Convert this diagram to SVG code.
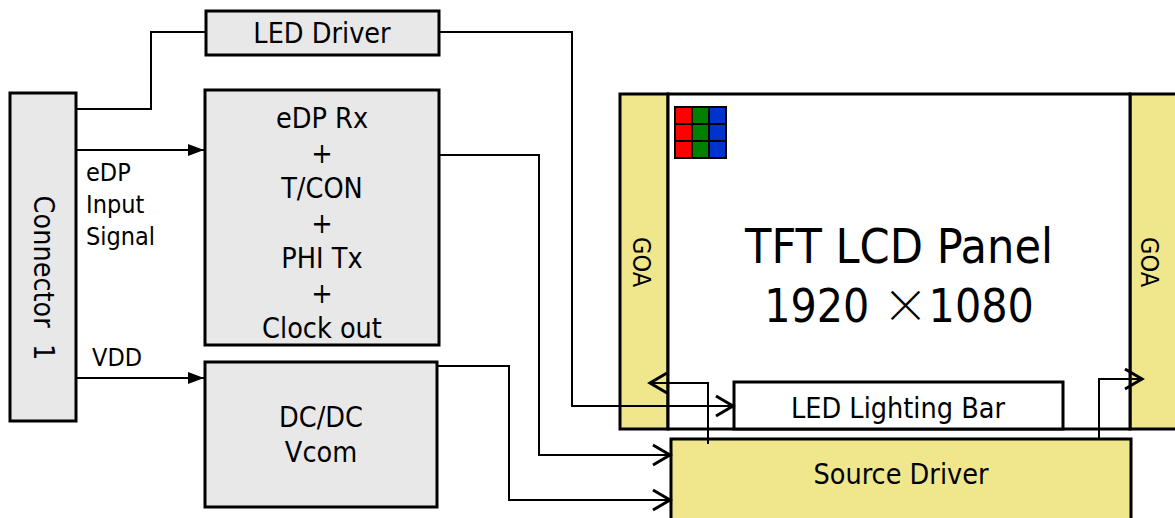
<svg xmlns="http://www.w3.org/2000/svg" width="1175" height="518" viewBox="0 0 1175 518">
<style>
.box{fill:#e8e8e8;stroke:#000;stroke-width:3}
.yel{fill:#f0e68c;stroke:#000;stroke-width:3}
.wht{fill:#fff;stroke:#000;stroke-width:3}
.t{font-family:'DejaVu Sans Condensed','DejaVu Sans',sans-serif;font-size:28.5px;fill:#000;text-anchor:middle}
.l{font-family:'DejaVu Sans Condensed','DejaVu Sans',sans-serif;font-size:25px;fill:#000}
.big{font-family:'DejaVu Sans Condensed','DejaVu Sans',sans-serif;font-size:48px;fill:#000;text-anchor:middle}
.goa{font-family:'DejaVu Sans Condensed','DejaVu Sans',sans-serif;font-size:25px;fill:#000;text-anchor:middle;dominant-baseline:central}
.c{fill:none;stroke:#000;stroke-width:2}
.cell{stroke:#000;stroke-width:2}
</style>
<defs>
<marker id="chev" viewBox="-20 -12 24 24" markerWidth="24" markerHeight="24" refX="0" refY="0" orient="auto" markerUnits="userSpaceOnUse"><path d="M-17,-10 L0,0 L-17,10" fill="none" stroke="#000" stroke-width="3"/></marker>
<marker id="tri" viewBox="-16 -8 18 16" markerWidth="18" markerHeight="16" refX="0" refY="0" orient="auto" markerUnits="userSpaceOnUse"><path d="M-16,-6 L0,0 L-16,6 Z" fill="#000"/></marker>
</defs>
<rect width="1175" height="518" fill="#fff"/>

<g id="connector1">
<rect class="box" x="10" y="93" width="66" height="328"/>
<text class="t" style="white-space:pre;dominant-baseline:central" transform="translate(43,278) rotate(90)">Connector  1</text>
</g>

<g id="led-driver">
<rect class="box" x="206" y="11" width="233" height="44"/>
<text class="t" x="322" y="43">LED Driver</text>
</g>

<g id="edp-rx">
<rect class="box" x="205" y="90" width="234" height="255"/>
<text class="t" x="322" y="128">eDP Rx</text>
<text class="t" x="322" y="163">+</text>
<text class="t" x="322" y="198">T/CON</text>
<text class="t" x="322" y="233">+</text>
<text class="t" x="322" y="268">PHI Tx</text>
<text class="t" x="322" y="303">+</text>
<text class="t" x="322" y="338">Clock out</text>
</g>

<g id="dcdc">
<rect class="box" x="205" y="362" width="232" height="145"/>
<text class="t" x="321" y="427">DC/DC</text>
<text class="t" x="321" y="462">Vcom</text>
</g>

<g id="goa-left">
<rect class="yel" x="620" y="94" width="48" height="335"/>
<text class="goa" transform="translate(641,262) rotate(90)">GOA</text>
</g>

<g id="goa-right">
<rect class="yel" x="1130" y="94" width="52" height="335"/>
<text class="goa" transform="translate(1149,262) rotate(90)">GOA</text>
</g>

<g id="panel">
<rect class="wht" x="668" y="94" width="462" height="335"/>
<g id="pixels">
<rect class="cell" x="675" y="107" width="17" height="17" fill="#ff0000"/>
<rect class="cell" x="692" y="107" width="17" height="17" fill="#008000"/>
<rect class="cell" x="709" y="107" width="17" height="17" fill="#0033cc"/>
<rect class="cell" x="675" y="124" width="17" height="17" fill="#ff0000"/>
<rect class="cell" x="692" y="124" width="17" height="17" fill="#008000"/>
<rect class="cell" x="709" y="124" width="17" height="17" fill="#0033cc"/>
<rect class="cell" x="675" y="141" width="17" height="17" fill="#ff0000"/>
<rect class="cell" x="692" y="141" width="17" height="17" fill="#008000"/>
<rect class="cell" x="709" y="141" width="17" height="17" fill="#0033cc"/>
</g>
<text class="big" x="899" y="263">TFT LCD Panel</text>
<text class="big" x="899" y="322" style="font-size:46px">1920 <tspan style="font-family:'Noto Sans CJK SC',sans-serif;font-weight:300">×</tspan>1080</text>
</g>

<g id="led-bar">
<rect class="wht" x="734" y="382" width="329" height="47"/>
<text class="t" x="898" y="418">LED Lighting Bar</text>
</g>

<g id="source-driver">
<rect class="yel" x="671" y="439" width="460" height="90"/>
<text class="t" x="901" y="484">Source Driver</text>
</g>

<g id="labels">
<text class="l" x="86" y="181">eDP</text>
<text class="l" x="86" y="213">Input</text>
<text class="l" x="86" y="245">Signal</text>
<text class="l" x="92" y="366">VDD</text>
</g>

<g id="connectors">
<path class="c" d="M76,109 H151 V32 H206"/>
<path class="c" d="M439,32 H572 V406 H733" marker-end="url(#chev)"/>
<path class="c" d="M76,150 H204" marker-end="url(#tri)"/>
<path class="c" d="M76,378 H204" marker-end="url(#tri)"/>
<path class="c" d="M439,155 H539 V455 H670" marker-end="url(#chev)"/>
<path class="c" d="M437,366 H509 V500 H670" marker-end="url(#chev)"/>
<path class="c" d="M708,444 V383 H650" marker-end="url(#chev)"/>
<path class="c" d="M1099,439 V379 H1142" marker-end="url(#chev)"/>
</g>
</svg>
